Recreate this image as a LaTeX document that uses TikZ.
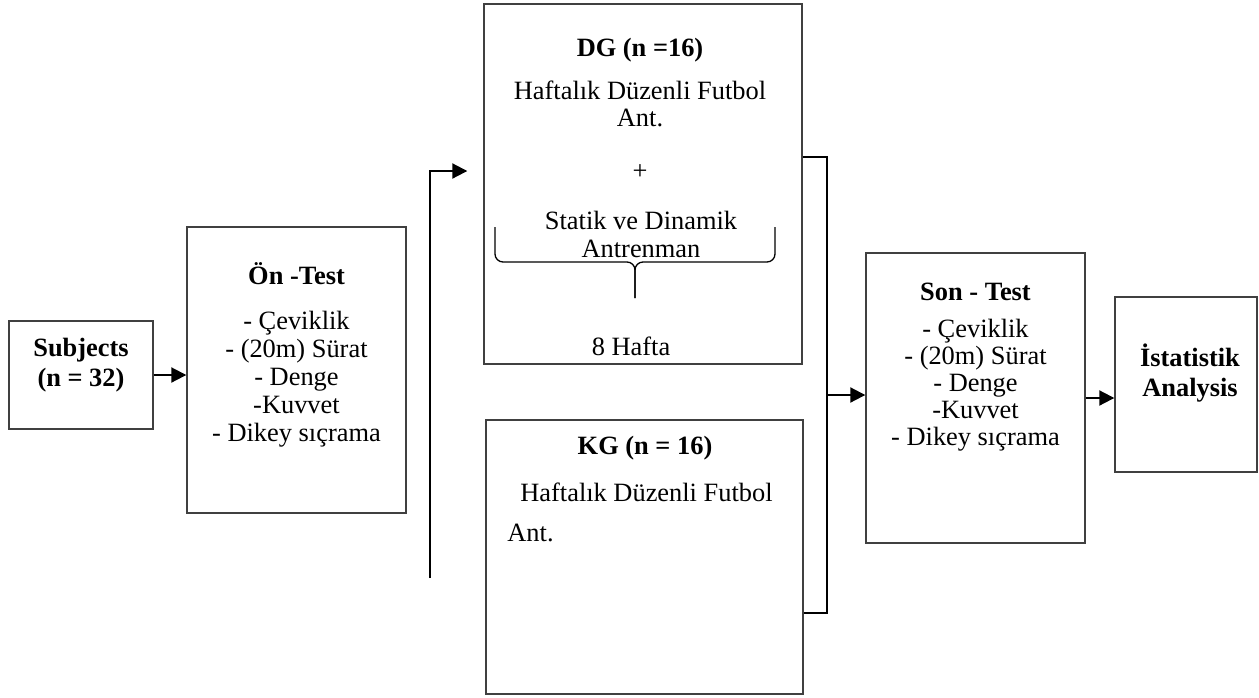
\documentclass[tikz,border=0pt]{standalone}
\usepackage{fontspec}
\setmainfont{Liberation Serif}
\usetikzlibrary{positioning,arrows.meta}
\definecolor{boxLine}{RGB}{64,64,64}
\definecolor{connDark}{RGB}{0,0,0}

\begin{document}
\begin{tikzpicture}[
  x=0.5pt,y=-0.5pt,
  font=\fontsize{13.2}{14}\selectfont,
  stage/.style={draw=boxLine,line width=0.7pt,rectangle,inner sep=0pt},
  txt/.style={align=center,inner sep=0pt},
  ttl/.style={txt,font=\fontsize{13.2}{14}\selectfont\bfseries},
  conn/.style={draw=connDark,line width=1pt,-{Triangle[length=7.5pt,width=7.5pt]}},
  rail/.style={draw=connDark,line width=1pt},
  curly/.style={draw=connDark,line width=0.65pt,rounded corners=4pt}
]
\useasboundingbox (0,0) rectangle (1259,697);

% ==========  boxes  ==========
\node[stage,minimum width=72pt,minimum height=54pt] (subj) at (81,375) {};
\node[stage,minimum width=109.5pt,minimum height=143pt] (pre) at (296.5,370) {};
\node[stage,minimum width=159pt,minimum height=180pt] (dg) at (643,184) {};
\node[stage,minimum width=158.5pt,minimum height=137pt] (kg) at (644.5,557) {};
\node[stage,minimum width=109.5pt,minimum height=145pt] (post) at (975.5,398) {};
\node[stage,minimum width=71pt,minimum height=87.5pt] (stat) at (1186,384.5) {};

% ==========  box texts  ==========
\node[ttl,font=\fontsize{13.2}{15}\selectfont\bfseries] (subjT) at (81,365) {Subjects\\(n = 32)};

\node[txt] (preT) at (296.5,355)
  {\textbf{Ön -Test}\\[8.5pt]- Çeviklik\\- (20m) Sürat\\- Denge\\-Kuvvet\\- Dikey sıçrama};

% DG group
\node[ttl] (dgT) at (640,50) {DG (n =16)};
\node[txt,font=\fontsize{13.2}{13.5}\selectfont] (dgA) at (640,104) {Haftalık Düzenli Futbol\\Ant.};
\node[txt] (dgP) at (640,172) {+};
\node[txt] (dgS) at (641,234) {Statik ve Dinamik\\Antrenman};
\node[txt] (dgW) at (631,346) {8 Hafta};

% brace under the training text
\draw[curly] (495,227) -- (495,262) -- (635,262) -- (635,298);
\draw[curly] (775,227) -- (775,262) -- (635,262) -- (635,298);

% KG group
\node[ttl] (kgT) at (645,448) {KG (n = 16)};
\node[txt,align=left,font=\fontsize{13.2}{20}\selectfont,anchor=west] (kgA) at (507,512)
  {\hspace*{6.5pt}Haftalık Düzenli Futbol\\Ant.};

\node[txt,font=\fontsize{13.2}{13.5}\selectfont] (postT) at (975.5,367)
  {\textbf{Son - Test}\\[5pt]- Çeviklik\\- (20m) Sürat\\- Denge\\-Kuvvet\\- Dikey sıçrama};

\node[ttl,font=\fontsize{13.2}{15}\selectfont\bfseries] (statT) at (1190,373) {İstatistik\\Analysis};

% ==========  connectors  ==========
\coordinate (gate) at (430,578);
\coordinate (mrg) at (827,395);

\draw[conn] (subj.east) -- (subj.east -| pre.west);
\draw[conn,shorten >=8pt] (gate) |- ([yshift=6.5pt]dg.west);

% merge rail between the two groups
\draw[rail] ([yshift=13.5pt]dg.east) -| (mrg) |- ([yshift=-28pt]kg.east);
\draw[conn] (mrg) -- (mrg -| post.west);

\draw[conn] (post.east) -- (post.east -| stat.west);

\end{tikzpicture}
\end{document}
